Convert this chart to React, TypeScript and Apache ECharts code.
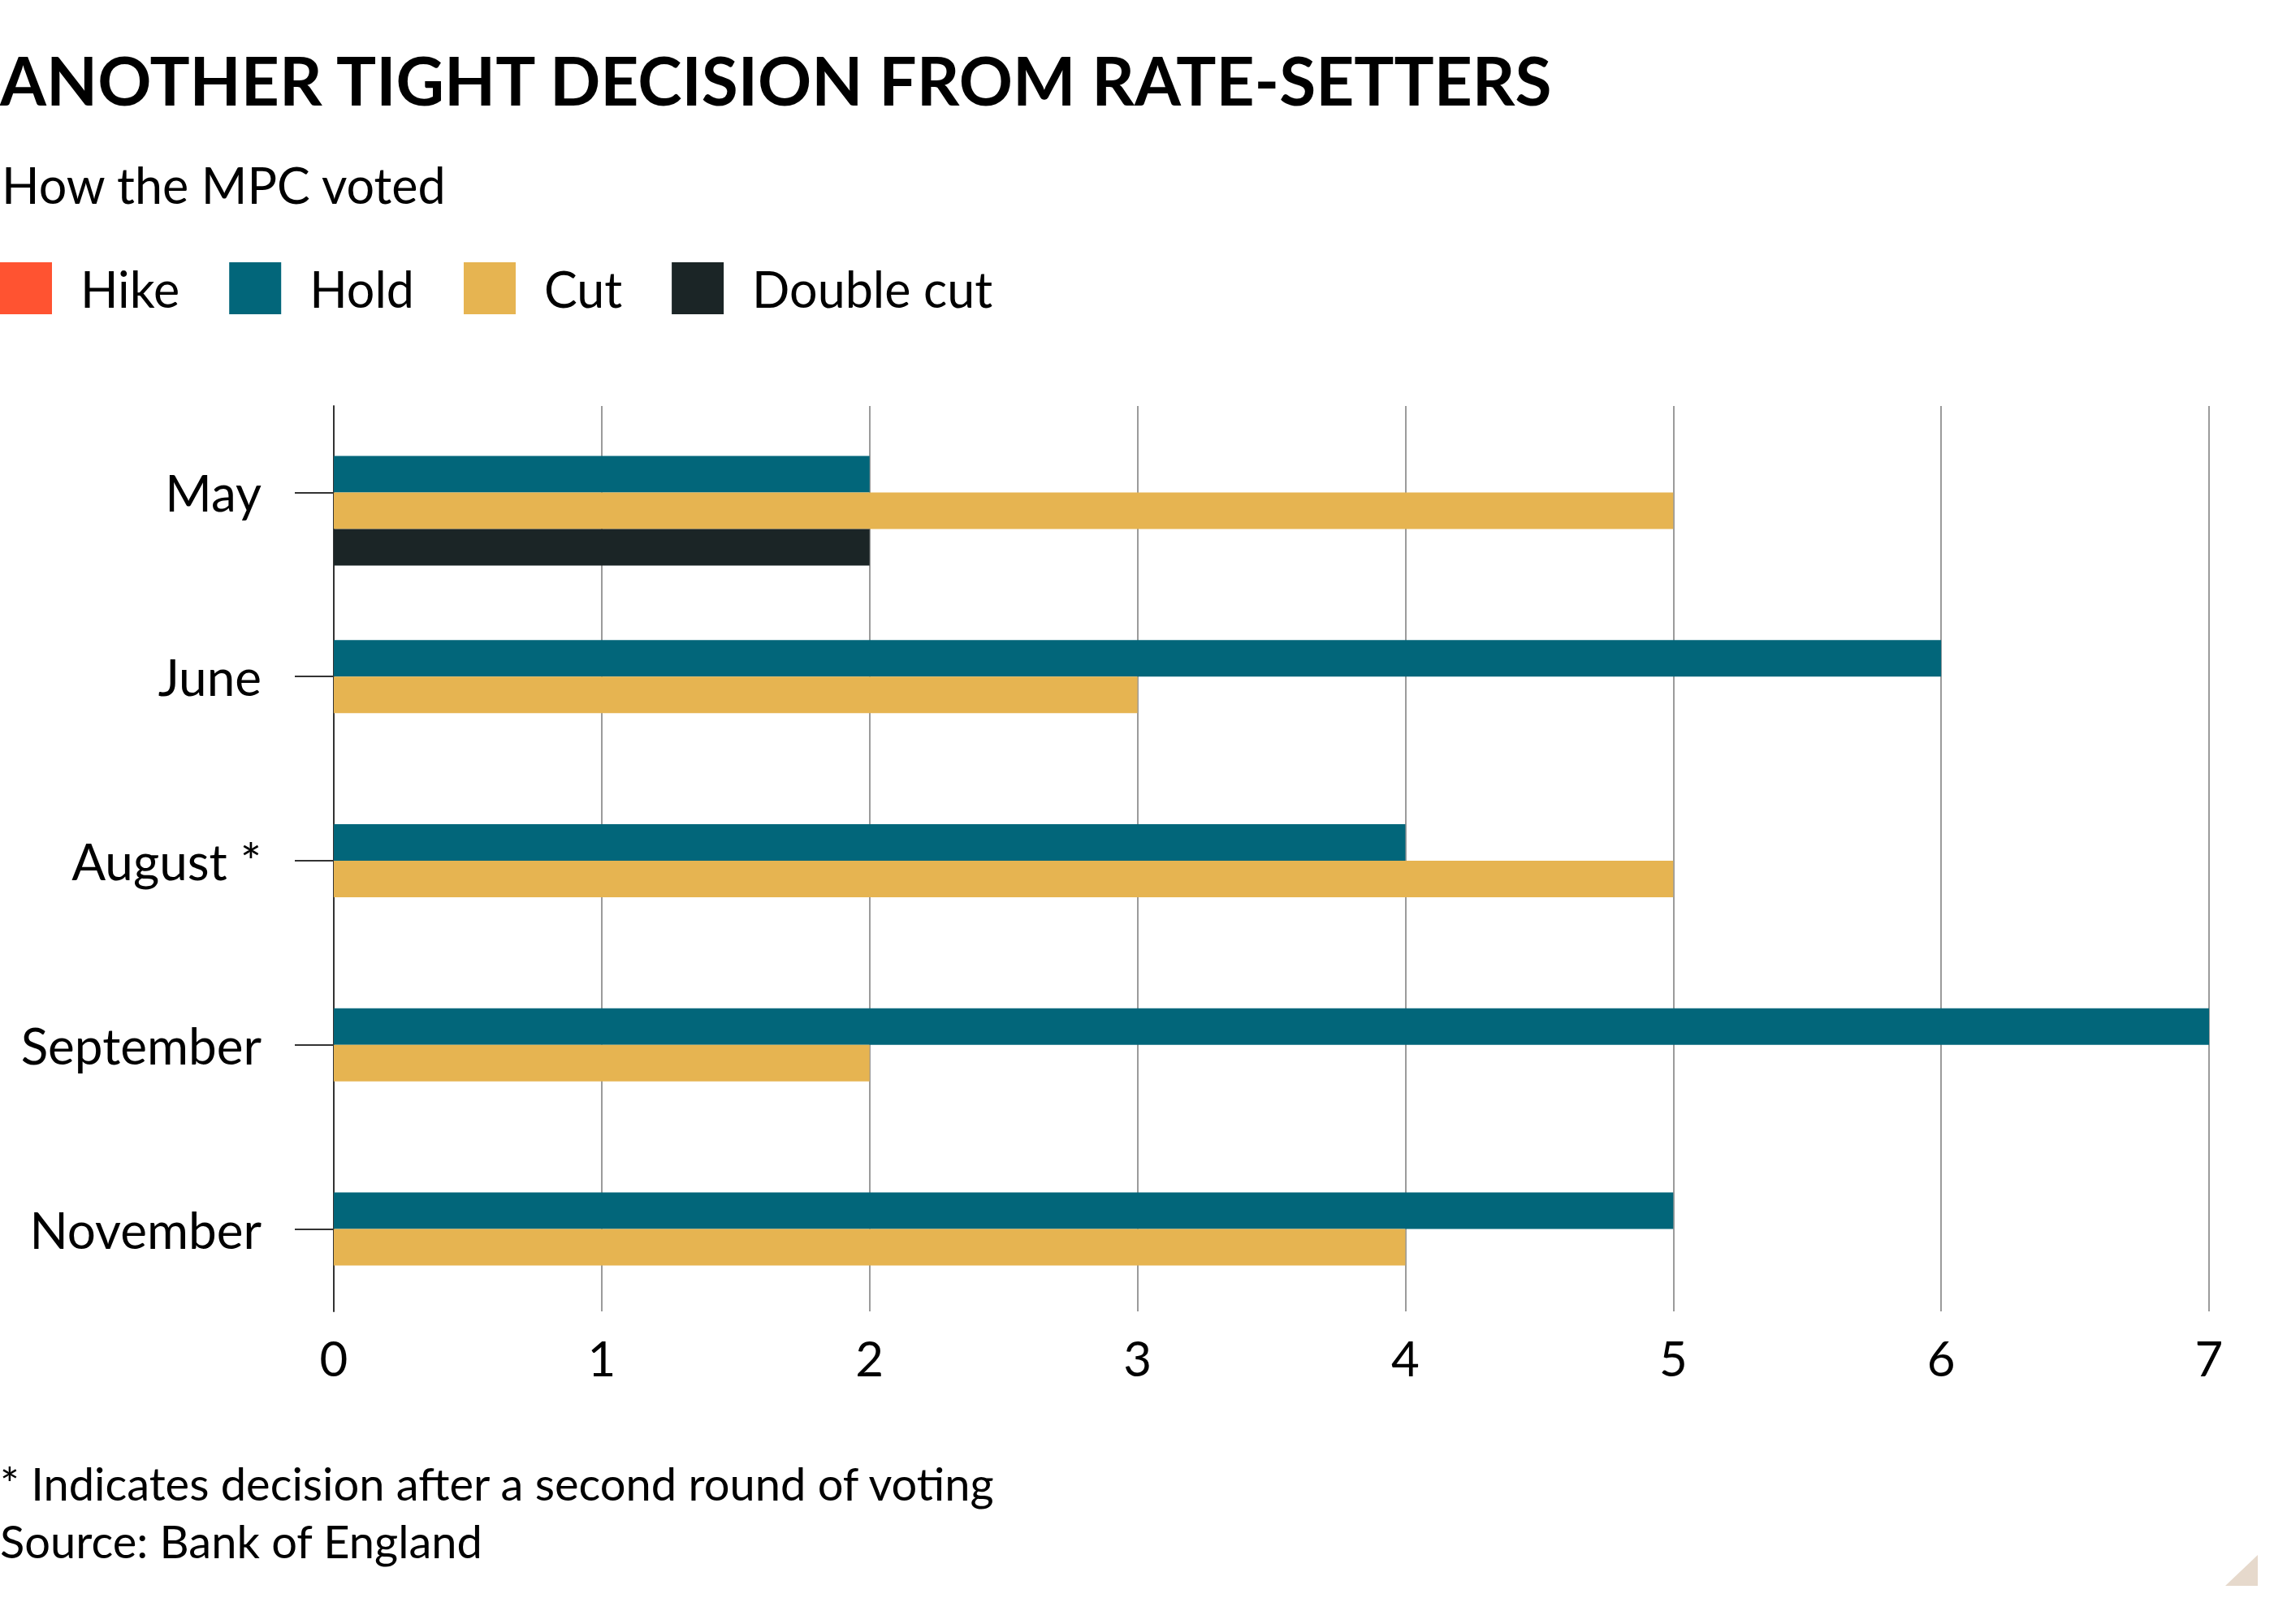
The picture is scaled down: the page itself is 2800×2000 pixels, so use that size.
import React, { useEffect, useRef } from 'react';
import * as echarts from 'echarts';

// How the MPC voted, per meeting
const months = ['May', 'June', 'August *', 'September', 'November'];
const hike: (number | null)[] = [null, null, null, null, null];
const hold = [2, 6, 4, 7, 5];
const cut = [5, 3, 5, 2, 4];
const doubleCut: (number | null)[] = [2, null, null, null, null];
const seriesNames = ['Hike', 'Hold', 'Cut', 'Double cut'];
const seriesColors = ['#FF5331', '#02667A', '#E6B451', '#1B2526'];

const FONT = 'Lato';

const App: React.FC = () => {
  const chartRef = useRef<HTMLDivElement>(null);

  useEffect(() => {
    if (!chartRef.current) return;
    const chart = echarts.init(chartRef.current, null, { renderer: 'svg' });

    const values = [hike, hold, cut, doubleCut];

    const option = {
      animation: false,
      backgroundColor: '#fff',
      textStyle: { fontFamily: FONT },
      legend: {
        data: seriesNames,
        left: 0,
        top: 323,
        padding: 0,
        icon: 'rect',
        itemWidth: 64,
        itemHeight: 64,
        itemGap: 61,
        selectedMode: false,
        textStyle: {
          fontFamily: FONT,
          fontSize: 61,
          color: '#000',
          padding: [0, 0, 0, 30]
        }
      },
      grid: [
        { left: 411, right: 80, top: 493, height: 1134 },
        { left: 411, right: 80, top: 500, height: 1115 }
      ],
      xAxis: [
        {
          gridIndex: 0,
          type: 'value',
          min: 0,
          max: 7,
          interval: 1,
          axisLabel: { show: false },
          axisLine: { show: false },
          axisTick: { show: false },
          splitLine: { show: false }
        },
        {
          gridIndex: 1,
          type: 'value',
          min: 0,
          max: 7,
          interval: 1,
          axisLabel: { fontFamily: FONT, fontSize: 60, color: '#000', margin: 27 },
          axisLine: { show: false },
          axisTick: { show: false },
          splitLine: { show: true, lineStyle: { color: '#9b9b9b', width: 2 } }
        }
      ],
      yAxis: [
        {
          gridIndex: 0,
          type: 'category',
          data: months,
          inverse: true,
          axisLine: { show: false },
          axisTick: {
            show: true,
            alignWithLabel: true,
            length: 48,
            lineStyle: { color: '#333', width: 2 }
          },
          axisLabel: { fontFamily: FONT, fontSize: 62, color: '#000', margin: 89 },
          splitLine: { show: false }
        },
        {
          gridIndex: 1,
          type: 'value',
          axisLine: { show: true, lineStyle: { color: '#333', width: 2 } },
          axisLabel: { show: false },
          axisTick: { show: false },
          splitLine: { show: false }
        }
      ],
      series: seriesNames.map((name, i) => ({
        name,
        type: 'bar',
        xAxisIndex: 0,
        yAxisIndex: 0,
        data: values[i],
        barWidth: 45,
        barGap: '0%',
        itemStyle: { color: seriesColors[i] },
        z: 3
      })),
      graphic: [
        {
          type: 'text',
          x: 0,
          y: 98,
          style: {
            text: 'ANOTHER TIGHT DECISION FROM RATE-SETTERS',
            fontFamily: FONT,
            fontWeight: 'bold',
            fontSize: 82,
            fill: '#000',
            verticalAlign: 'middle'
          }
        },
        {
          type: 'text',
          x: 2,
          y: 227,
          style: {
            text: 'How the MPC voted',
            fontFamily: FONT,
            fontSize: 61,
            fill: '#000',
            verticalAlign: 'middle'
          }
        },
        {
          type: 'text',
          x: 0,
          y: 1826,
          style: {
            text: '* Indicates decision after a second round of voting',
            fontFamily: FONT,
            fontSize: 56,
            fill: '#000',
            verticalAlign: 'middle'
          }
        },
        {
          type: 'text',
          x: 0,
          y: 1897,
          style: {
            text: 'Source: Bank of England',
            fontFamily: FONT,
            fontSize: 56,
            fill: '#000',
            verticalAlign: 'middle'
          }
        },
        {
          type: 'polygon',
          shape: { points: [[2740, 1953], [2780, 1953], [2780, 1915]] },
          style: { fill: '#E6D9CC' }
        }
      ]
    };

    chart.setOption(option);

    return () => {
      chart.dispose();
    };
  }, []);

  return (
    <div
      ref={chartRef}
      style={{ position: 'fixed', left: 0, top: 0, width: '2800px', height: '2000px', background: '#fff' }}
    />
  );
};

export default App;
